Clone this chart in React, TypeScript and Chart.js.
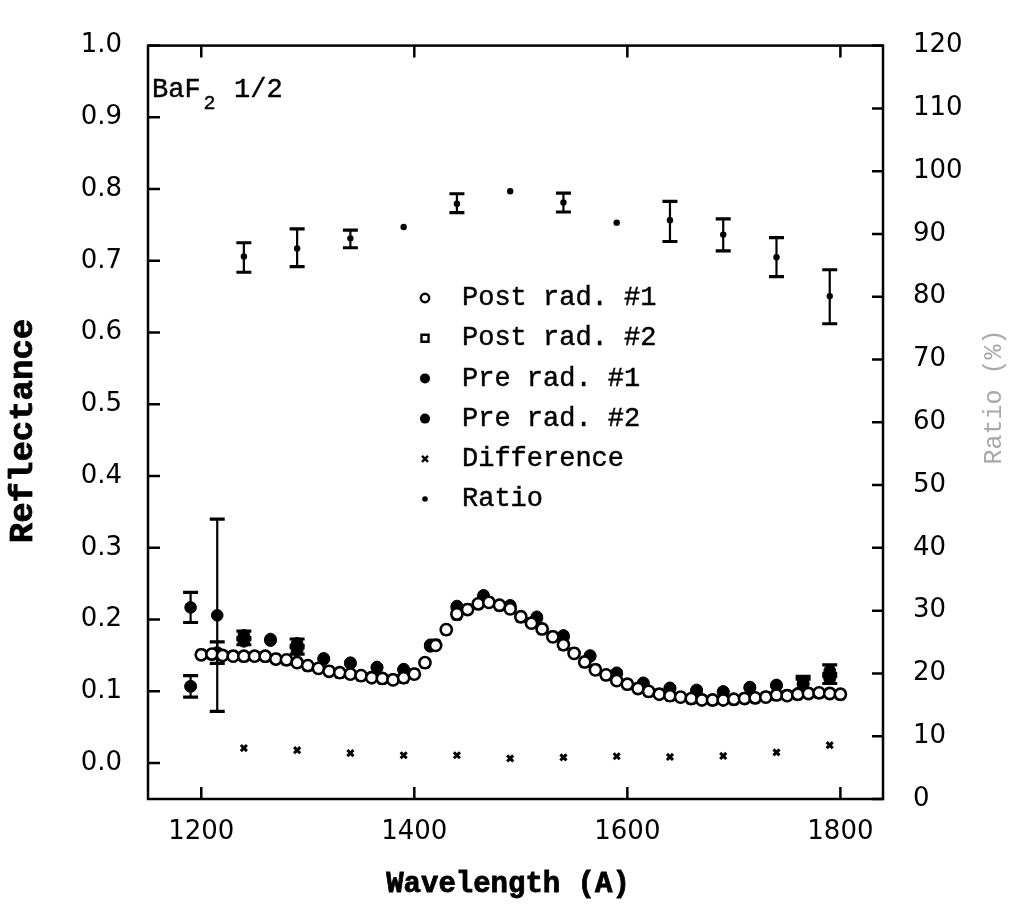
import React, { useEffect, useRef } from "react";
import { Chart, registerables } from "chart.js";

Chart.register(...registerables);

// ---------- data ----------
const postWavelengths = [
  1200, 1210, 1220, 1230, 1240, 1250, 1260, 1270, 1280, 1290,
  1300, 1310, 1320, 1330, 1340, 1350, 1360, 1370, 1380, 1390,
  1400, 1410, 1420, 1430, 1440, 1450, 1460, 1470, 1480, 1490,
  1500, 1510, 1520, 1530, 1540, 1550, 1560, 1570, 1580, 1590,
  1600, 1610, 1620, 1630, 1640, 1650, 1660, 1670, 1680, 1690,
  1700, 1710, 1720, 1730, 1740, 1750, 1760, 1770, 1780, 1790,
  1800,
];
const postRad1 = [
  0.151, 0.152, 0.150, 0.149, 0.149, 0.149, 0.149, 0.145, 0.144, 0.140,
  0.136, 0.132, 0.128, 0.126, 0.124, 0.122, 0.119, 0.118, 0.116, 0.119,
  0.124, 0.140, 0.164, 0.186, 0.208, 0.214, 0.222, 0.224, 0.220, 0.215,
  0.204, 0.195, 0.187, 0.176, 0.165, 0.153, 0.141, 0.130, 0.123, 0.115,
  0.110, 0.104, 0.100, 0.096, 0.094, 0.092, 0.090, 0.088, 0.088, 0.088,
  0.089, 0.090, 0.091, 0.092, 0.095, 0.094, 0.096, 0.097, 0.098, 0.097,
  0.096,
];
const postRad2 = [
  0.152, 0.151, 0.150, 0.150, 0.148, 0.149, 0.148, 0.146, 0.143, 0.141,
  0.135, 0.132, 0.129, 0.125, 0.124, 0.121, 0.120, 0.117, 0.117, 0.118,
  0.125, 0.139, 0.166, 0.185, 0.206, 0.215, 0.221, 0.225, 0.219, 0.216,
  0.203, 0.196, 0.186, 0.177, 0.164, 0.154, 0.140, 0.131, 0.122, 0.116,
  0.109, 0.105, 0.099, 0.097, 0.093, 0.092, 0.089, 0.089, 0.087, 0.089,
  0.088, 0.091, 0.090, 0.093, 0.094, 0.095, 0.095, 0.098, 0.097, 0.098,
  0.095,
];

const preWavelengths = [
  1190, 1215, 1240, 1265, 1290, 1315, 1340, 1365, 1390, 1415, 1440, 1465,
  1490, 1515, 1540, 1565, 1590, 1615, 1640, 1665, 1690, 1715, 1740, 1765, 1790,
];
const preRad1 = [
  0.217, 0.206, 0.178, 0.173, 0.167, 0.146, 0.140, 0.134, 0.131, 0.165, 0.219, 0.234,
  0.220, 0.204, 0.178, 0.150, 0.126, 0.112, 0.105, 0.102, 0.100, 0.106, 0.109, 0.112, 0.129,
];
const preRad1Err = [
  0.021, 0.134, 0.006, 0, 0.006, 0, 0, 0, 0, 0, 0, 0,
  0, 0, 0, 0, 0, 0, 0, 0, 0, 0, 0, 0.009, 0.008,
];
const preRad2 = [
  0.107, 0.154, 0.170, 0.171, 0.158, 0.145, 0.139, 0.133, 0.130, 0.163, 0.217, 0.232,
  0.218, 0.202, 0.176, 0.149, 0.125, 0.111, 0.104, 0.101, 0.099, 0.105, 0.108, 0.110, 0.118,
];
const preRad2Err = [
  0.015, 0.015, 0.005, 0, 0.006, 0, 0, 0, 0, 0, 0, 0,
  0, 0, 0, 0, 0, 0, 0, 0, 0, 0, 0, 0.007, 0.007,
];

const ratioWavelengths = [1240, 1290, 1340, 1390, 1440, 1490, 1540, 1590, 1640, 1690, 1740, 1790];
const differenceValues = [0.021, 0.018, 0.014, 0.011, 0.011, 0.0065, 0.008, 0.0096, 0.0086, 0.010, 0.015, 0.025];
const ratioValues = [86.4, 87.7, 89.3, 91.1, 94.8, 96.8, 95.0, 91.8, 92.2, 89.9, 86.3, 80.1];
const ratioLow = [83.9, 84.8, 87.8, null, 93.4, null, 93.5, null, 88.8, 87.3, 83.2, 75.7];
const ratioHigh = [88.6, 90.8, 90.6, null, 96.4, null, 96.5, null, 95.2, 92.4, 89.4, 84.3];

const xTickValues = [1200, 1400, 1600, 1800];
const yTickValues = [0, 0.1, 0.2, 0.3, 0.4, 0.5, 0.6, 0.7, 0.8, 0.9, 1.0];
const y2TickValues = [0, 10, 20, 30, 40, 50, 60, 70, 80, 90, 100, 110, 120];

const seriesLabels = ["Post rad. #1", "Post rad. #2", "Pre rad. #1", "Pre rad. #2", "Difference", "Ratio"];
const xTitle = "Wavelength (A)";
const yTitle = "Reflectance";
const y2Title = "Ratio (%)";
const sampleMain = "BaF";
const sampleSub = "2";
const sampleRest = "1/2";

const MONO = "'Liberation Mono', 'DejaVu Sans Mono', monospace";
const NUM = "'DejaVu Sans', 'Liberation Sans', sans-serif";

function pts(xs: number[], ys: number[]) {
  return xs.map((x, i) => ({ x, y: ys[i] }));
}

function boldText(ctx: CanvasRenderingContext2D, text: string, x: number, y: number, w: number) {
  ctx.fillText(text, x, y);
  ctx.lineWidth = w;
  ctx.strokeText(text, x, y);
}

const errorBarPlugin = {
  id: "errorBars",
  beforeDatasetsDraw(chart: any) {
    const ctx = chart.ctx;
    const area = chart.chartArea;
    ctx.save();
    ctx.beginPath();
    ctx.rect(area.left, area.top, area.right - area.left, area.bottom - area.top);
    ctx.clip();
    chart.data.datasets.forEach((ds: any, i: number) => {
      if (!ds.errLow) return;
      const meta = chart.getDatasetMeta(i);
      const xs = chart.scales[meta.xAxisID];
      const ys = chart.scales[meta.yAxisID];
      ds.data.forEach((p: any, j: number) => {
        const lo = ds.errLow[j];
        const hi = ds.errHigh[j];
        if (lo == null || hi == null || lo === hi) return;
        const px = xs.getPixelForValue(p.x);
        const yTop = ys.getPixelForValue(hi);
        const yBot = ys.getPixelForValue(lo);
        ctx.strokeStyle = "#000";
        ctx.lineWidth = 2.2;
        ctx.beginPath();
        ctx.moveTo(px, yTop);
        ctx.lineTo(px, yBot);
        ctx.stroke();
        ctx.lineWidth = 3.2;
        ctx.beginPath();
        ctx.moveTo(px - 7.5, yTop);
        ctx.lineTo(px + 7.5, yTop);
        ctx.moveTo(px - 7.5, yBot);
        ctx.lineTo(px + 7.5, yBot);
        ctx.stroke();
      });
    });
    ctx.restore();
  },
};

const framePlugin = {
  id: "frameAndDecor",
  afterDraw(chart: any) {
    const ctx = chart.ctx;
    const { left, right, top, bottom } = chart.chartArea;
    const sx = chart.scales.x;
    const sy = chart.scales.y;
    const sy2 = chart.scales.y2;
    ctx.save();
    ctx.strokeStyle = "#000";
    ctx.lineWidth = 2.5;
    ctx.strokeRect(left, top, right - left, bottom - top);
    // inward ticks
    ctx.lineWidth = 2.5;
    ctx.beginPath();
    sx.ticks.forEach((t: any) => {
      const px = sx.getPixelForValue(t.value);
      ctx.moveTo(px, bottom);
      ctx.lineTo(px, bottom - 12);
      ctx.moveTo(px, top);
      ctx.lineTo(px, top + 12);
    });
    sy.ticks.forEach((t: any) => {
      const py = sy.getPixelForValue(t.value);
      ctx.moveTo(left, py);
      ctx.lineTo(left + 12, py);
    });
    sy2.ticks.forEach((t: any) => {
      const py = sy2.getPixelForValue(t.value);
      ctx.moveTo(right, py);
      ctx.lineTo(right - 11, py);
    });
    ctx.stroke();

    // axis titles
    ctx.fillStyle = "#000";
    ctx.strokeStyle = "#000";
    ctx.textAlign = "center";
    ctx.textBaseline = "middle";
    ctx.font = `bold 29px ${MONO}`;
    boldText(ctx, xTitle, 508, 885, 0.8);
    ctx.save();
    ctx.translate(23, 431);
    ctx.rotate(-Math.PI / 2);
    ctx.font = `bold 34px ${MONO}`;
    boldText(ctx, yTitle, 0, 0, 0.8);
    ctx.restore();
    ctx.save();
    ctx.translate(994, 397);
    ctx.rotate(-Math.PI / 2);
    ctx.fillStyle = "#a8a8a8";
    ctx.font = `25px ${MONO}`;
    ctx.fillText(y2Title, 0, 0);
    ctx.restore();

    // sample annotation
    ctx.textAlign = "left";
    ctx.textBaseline = "alphabetic";
    ctx.fillStyle = "#000";
    ctx.strokeStyle = "#000";
    ctx.font = `27px ${MONO}`;
    boldText(ctx, sampleMain, 152, 97, 0.45);
    const w = ctx.measureText(sampleMain).width;
    ctx.font = `20px ${MONO}`;
    boldText(ctx, sampleSub, 152 + w + 3, 109, 0.4);
    ctx.font = `27px ${MONO}`;
    boldText(ctx, sampleRest, 234, 97, 0.45);

    // legend
    const lx = 425;
    const tx = 462;
    const y0 = 298;
    const dy = 40.2;
    ctx.textBaseline = "middle";
    chart.data.datasets.forEach((ds: any, i: number) => {
      const cy = y0 + i * dy;
      ctx.save();
      ctx.strokeStyle = "#000";
      ctx.fillStyle = "#000";
      const kind = ds.legendMarker;
      if (kind === "open") {
        ctx.lineWidth = 2.4;
        ctx.fillStyle = "#fff";
        ctx.beginPath();
        ctx.arc(lx, cy, 4.2, 0, Math.PI * 2);
        ctx.fill();
        ctx.stroke();
      } else if (kind === "openSquare") {
        ctx.lineWidth = 2.4;
        ctx.beginPath();
        ctx.rect(lx - 3.5, cy - 3.5, 7, 7);
        ctx.stroke();
      } else if (kind === "filled") {
        ctx.beginPath();
        ctx.arc(lx, cy, 5, 0, Math.PI * 2);
        ctx.fill();
      } else if (kind === "cross") {
        ctx.lineWidth = 2.4;
        ctx.beginPath();
        ctx.moveTo(lx - 3, cy - 3);
        ctx.lineTo(lx + 3, cy + 3);
        ctx.moveTo(lx + 3, cy - 3);
        ctx.lineTo(lx - 3, cy + 3);
        ctx.stroke();
      } else {
        ctx.beginPath();
        ctx.arc(lx, cy, 2.8, 0, Math.PI * 2);
        ctx.fill();
      }
      ctx.restore();
      ctx.font = `27px ${MONO}`;
      ctx.strokeStyle = "#000";
      boldText(ctx, ds.label, tx, cy, 0.45);
    });
    ctx.restore();
  },
};

export default function App() {
  const canvasRef = useRef<HTMLCanvasElement | null>(null);

  useEffect(() => {
    const canvas = canvasRef.current;
    if (!canvas) return;

    const pre1Low = preRad1.map((v, i) => (preRad1Err[i] ? v - preRad1Err[i] : null));
    const pre1High = preRad1.map((v, i) => (preRad1Err[i] ? v + preRad1Err[i] : null));
    const pre2Low = preRad2.map((v, i) => (preRad2Err[i] ? v - preRad2Err[i] : null));
    const pre2High = preRad2.map((v, i) => (preRad2Err[i] ? v + preRad2Err[i] : null));

    const tickFont = { family: NUM, size: 26 };

    const chart = new Chart(canvas, {
      type: "scatter",
      data: {
        datasets: [
          {
            label: seriesLabels[0],
            data: pts(postWavelengths, postRad1),
            pointStyle: "circle",
            pointRadius: 5.6,
            borderWidth: 2.6,
            borderColor: "#000",
            backgroundColor: "#fff",
            legendMarker: "open",
          } as any,
          {
            label: seriesLabels[1],
            data: pts(postWavelengths, postRad2),
            pointStyle: "rectRounded",
            pointRadius: 5,
            borderWidth: 2.6,
            borderColor: "#000",
            backgroundColor: "#fff",
            legendMarker: "openSquare",
          } as any,
          {
            label: seriesLabels[2],
            data: pts(preWavelengths, preRad1),
            pointStyle: "circle",
            pointRadius: 5.8,
            borderWidth: 1,
            borderColor: "#000",
            backgroundColor: "#000",
            errLow: pre1Low,
            errHigh: pre1High,
            legendMarker: "filled",
          } as any,
          {
            label: seriesLabels[3],
            data: pts(preWavelengths, preRad2),
            pointStyle: "circle",
            pointRadius: 6,
            borderWidth: 1,
            borderColor: "#000",
            backgroundColor: "#000",
            errLow: pre2Low,
            errHigh: pre2High,
            legendMarker: "filled",
          } as any,
          {
            label: seriesLabels[4],
            data: pts(ratioWavelengths, differenceValues),
            pointStyle: "crossRot",
            pointRadius: 4.3,
            borderWidth: 3,
            borderColor: "#000",
            backgroundColor: "#000",
            legendMarker: "cross",
          } as any,
          {
            label: seriesLabels[5],
            data: pts(ratioWavelengths, ratioValues),
            yAxisID: "y2",
            pointStyle: "circle",
            pointRadius: 3.2,
            borderWidth: 0,
            borderColor: "#000",
            backgroundColor: "#000",
            errLow: ratioLow,
            errHigh: ratioHigh,
            legendMarker: "dot",
          } as any,
        ],
      },
      options: {
        animation: false,
        responsive: false,
        layout: { padding: { top: 41, left: 0, right: 0, bottom: 0 } },
        plugins: {
          legend: { display: false },
          tooltip: { enabled: false },
        },
        scales: {
          x: {
            type: "linear",
            position: "bottom",
            min: 1150,
            max: 1840,
            grid: { display: false, drawTicks: false },
            border: { display: false },
            afterBuildTicks: (s: any) => {
              s.ticks = xTickValues.map((v) => ({ value: v }));
            },
            afterFit: (s: any) => {
              s.height = 110;
            },
            ticks: {
              color: "#000",
              padding: 18,
              maxRotation: 0,
              autoSkip: false,
              font: tickFont,
              callback: (v: any) => String(v),
            },
          },
          y: {
            type: "linear",
            position: "left",
            min: -0.05,
            max: 1.0,
            grid: { display: false, drawTicks: false },
            border: { display: false },
            afterBuildTicks: (s: any) => {
              s.ticks = yTickValues.map((v) => ({ value: v }));
            },
            afterFit: (s: any) => {
              s.width = 148;
            },
            ticks: {
              color: "#000",
              padding: 26,
              autoSkip: false,
              font: tickFont,
              callback: (v: any) => Number(v).toFixed(1),
            },
          },
          y2: {
            type: "linear",
            position: "right",
            min: 0,
            max: 120,
            grid: { display: false, drawTicks: false },
            border: { display: false },
            afterBuildTicks: (s: any) => {
              s.ticks = y2TickValues.map((v) => ({ value: v }));
            },
            afterFit: (s: any) => {
              s.width = 135;
            },
            ticks: {
              color: "#000",
              padding: 30,
              autoSkip: false,
              font: tickFont,
              callback: (v: any) => String(v),
            },
          },
        },
      } as any,
      plugins: [errorBarPlugin, framePlugin],
    });

    return () => {
      chart.destroy();
    };
  }, []);

  return (
    <div style={{ position: "fixed", left: 0, top: 0, width: 1018, height: 909, background: "#fff" }}>
      <canvas ref={canvasRef} width={1018} height={909} style={{ display: "block" }} />
    </div>
  );
}
